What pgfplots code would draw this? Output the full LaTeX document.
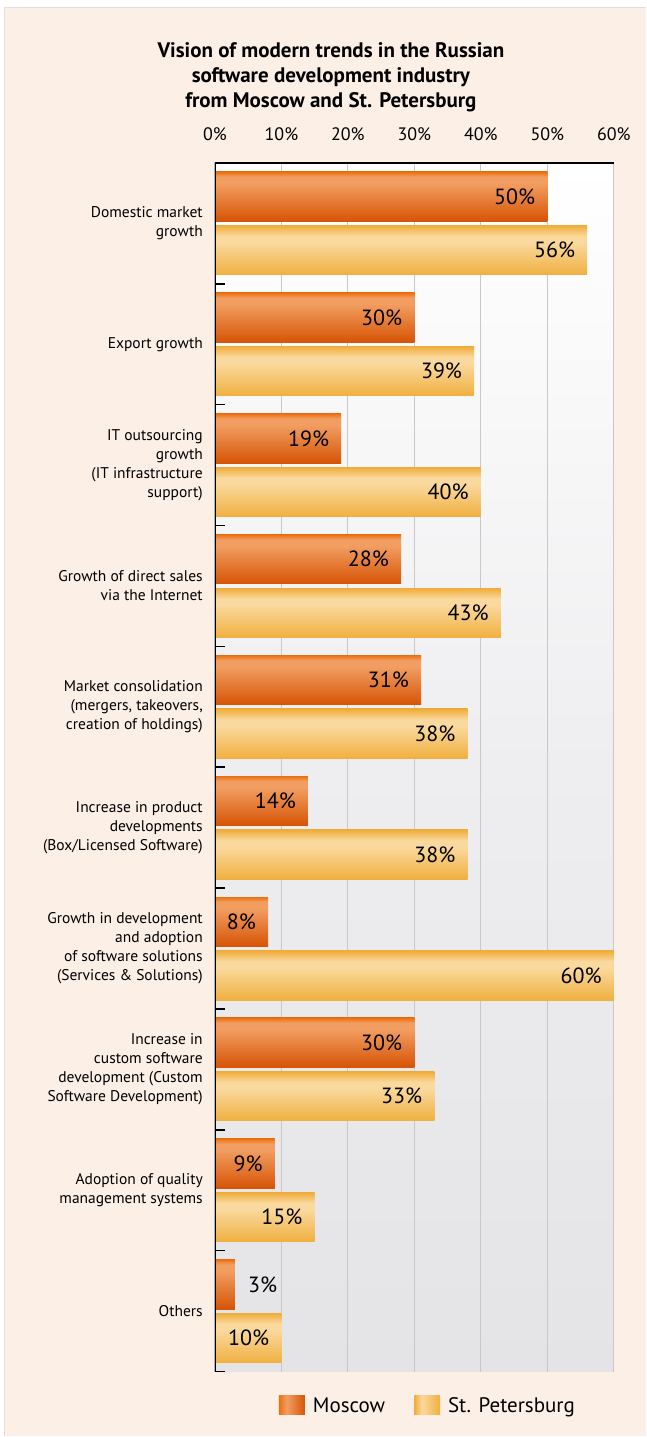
\documentclass[border=0pt]{standalone}
\usepackage{fontspec}
\setmainfont{PT Sans}
\usepackage{pgfplots}
\pgfplotsset{compat=1.18}
\definecolor{peach}{HTML}{FCEFE6}
\definecolor{mT}{HTML}{EC7010}
\definecolor{mL}{HTML}{F29E62}
\definecolor{mB}{HTML}{D65405}
\definecolor{sT}{HTML}{EFAC3A}
\definecolor{sL}{HTML}{FAD99E}
\definecolor{sB}{HTML}{F0B040}
\definecolor{gridc}{HTML}{C8C8CA}
\definecolor{bgbot}{HTML}{E4E4E7}
\definecolor{bgmid}{HTML}{EEEEF0}
\pgfdeclareverticalshading{moscowbar}{100bp}{color(0bp)=(mB); color(25bp)=(mB); color(64bp)=(mL); color(70bp)=(mL); color(75bp)=(mT); color(100bp)=(mT)}
\pgfdeclareverticalshading{spbbar}{100bp}{color(0bp)=(sB); color(25bp)=(sB); color(58bp)=(sL); color(64bp)=(sL); color(75bp)=(sT); color(100bp)=(sT)}
\pgfdeclarehorizontalshading{moscowleg}{100bp}{color(0bp)=(mT); color(25bp)=(mT); color(40bp)=(mL); color(75bp)=(mB); color(100bp)=(mB)}
\pgfdeclarehorizontalshading{spbleg}{100bp}{color(0bp)=(sT); color(25bp)=(sT); color(40bp)=(sL); color(75bp)=(sB); color(100bp)=(sB)}
\pgfdeclareverticalshading{bgshade}{100bp}{color(0bp)=(bgbot); color(25bp)=(bgbot); color(50bp)=(bgmid); color(75bp)=(white); color(100bp)=(white)}
\pgfplotsset{
  vlab/.style={nodes near coords={\pgfmathprintnumber[assume math mode=true]{\pgfplotspointmeta}\%}},
  inlab/.style={vlab, every node near coord/.append style={anchor=east, inner sep=0pt, xshift=-12pt, font=\fontsize{22}{22}\selectfont, text=black}},
  outlab/.style={vlab, every node near coord/.append style={anchor=west, inner sep=0pt, xshift=13pt, font=\fontsize{22}{22}\selectfont, text=black}},
  mosc/.style={xbar, bar shift=0pt, draw=none, shade, shading=moscowbar,
    legend image code/.code={\shade[shading=moscowleg] (0pt,-9.5pt) rectangle (26pt,9.5pt);}},
  spb/.style={xbar, bar shift=0pt, draw=none, shade, shading=spbbar,
    legend image code/.code={\shade[shading=spbleg] (0pt,-9.5pt) rectangle (26pt,9.5pt);}},
}
\begin{document}
\begin{tikzpicture}[x=1pt,y=1pt]
\fill[white] (0,0) rectangle (646,1437);
\fill[peach] (5,0) rectangle (646,1429);
\draw[black!12, line width=1pt] (5,0) -- (5,1429) -- (646,1429);
\useasboundingbox (0,0) rectangle (646,1437);
\node[font=\bfseries\fontsize{21}{25}\selectfont, align=center] at (331,1360) {Vision of modern trends in the Russian\\software development industry\\from Moscow and St. Petersburg};
\begin{axis}[
  at={(215pt,65pt)}, anchor=south west,
  scale only axis, width=399pt, height=1209pt,
  xmin=0, xmax=60, ymin=-0.5, ymax=9.5,
  axis line style={draw=none},
  axis background/.style={shade, shading=bgshade},
  xtick={0,10,...,60},
  xticklabel pos=upper,
  xticklabel={\pgfmathprintnumber{\tick}\%},
  /pgf/number format/assume math mode=true,
  xticklabel style={font=\fontsize{18}{20}\selectfont, anchor=base, inner sep=0pt, yshift=22pt},
  xmajorgrids,
  major grid style={gridc, line width=1.2pt},
  major x tick style={draw=none},
  ytick={0,...,9},
  yticklabels={Others,
    {Adoption of quality\\management systems},
    {Increase in\\custom software\\development (Custom\\Software Development)},
    {Growth in development\\and adoption\\of software solutions\\(Services \& Solutions)},
    {Increase in product\\developments\\(Box/Licensed Software)},
    {Market consolidation\\(mergers, takeovers,\\creation of holdings)},
    {Growth of direct sales\\via the Internet},
    {IT outsourcing\\growth\\(IT infrastructure\\support)},
    Export growth,
    {Domestic market\\growth}},
  yticklabel style={font=\fontsize{15.5}{19}\selectfont, align=right, anchor=east, inner sep=0pt, xshift=-12pt},
  major y tick style={draw=none},
  minor ytick={-0.5,0.5,...,9.5},
  minor tick length=10pt,
  minor y tick style={black, line width=1.5pt},
  ytick pos=left,
  tick align=inside,
  bar width=0.409,
  point meta=x,
  legend columns=2,
  legend cell align=left,
  legend style={draw=none, fill=none, at={(0.534,-0.0281)}, anchor=center,
    font=\fontsize{21}{21}\selectfont,
    /tikz/every odd column/.append style={column sep=6pt},
    /tikz/every even column/.append style={column sep=27pt}},
]
\addplot[mosc, inlab] coordinates {(50,9.2215)};
\addlegendentry{Moscow}
\addplot[spb, inlab] coordinates {(56,8.7785)};
\addlegendentry{St. Petersburg}
% Moscow
\addplot[mosc, inlab, forget plot] coordinates {(30,8.2215)};
\addplot[mosc, inlab, forget plot] coordinates {(19,7.2215)};
\addplot[mosc, inlab, forget plot] coordinates {(28,6.2215)};
\addplot[mosc, inlab, forget plot] coordinates {(31,5.2215)};
\addplot[mosc, inlab, forget plot] coordinates {(14,4.2215)};
\addplot[mosc, inlab, forget plot] coordinates {(8,3.2215)};
\addplot[mosc, inlab, forget plot] coordinates {(30,2.2215)};
\addplot[mosc, inlab, forget plot] coordinates {(9,1.2215)};
\addplot[mosc, outlab, forget plot] coordinates {(3,0.2215)};
% St. Petersburg
\addplot[spb, inlab, forget plot] coordinates {(39,7.7785)};
\addplot[spb, inlab, forget plot] coordinates {(40,6.7785)};
\addplot[spb, inlab, forget plot] coordinates {(43,5.7785)};
\addplot[spb, inlab, forget plot] coordinates {(38,4.7785)};
\addplot[spb, inlab, forget plot] coordinates {(38,3.7785)};
\addplot[spb, inlab, forget plot] coordinates {(60,2.7785)};
\addplot[spb, inlab, forget plot] coordinates {(33,1.7785)};
\addplot[spb, inlab, forget plot] coordinates {(15,0.7785)};
\addplot[spb, inlab, forget plot] coordinates {(10,-0.2215)};
\draw[black, line width=1.5pt] (axis description cs:0,0) -- (axis description cs:0,1) -- (axis description cs:1,1);
\end{axis}
\end{tikzpicture}
\end{document}
